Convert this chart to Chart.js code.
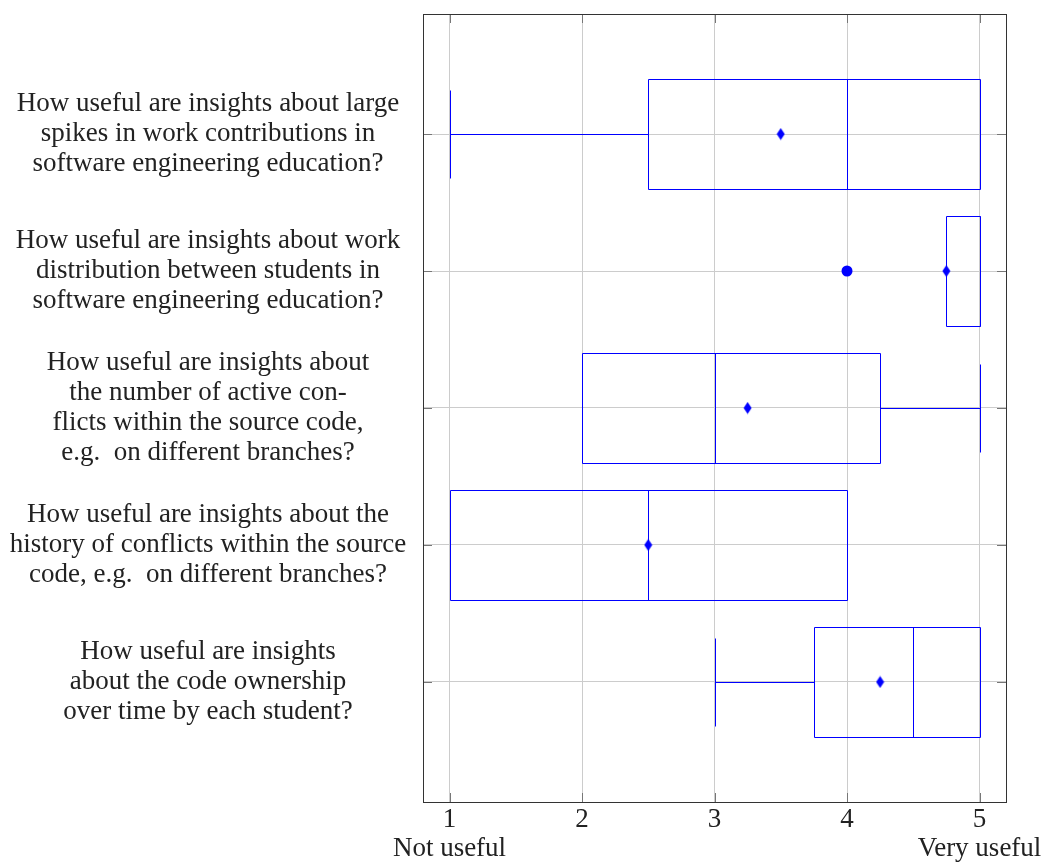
<!doctype html>
<html>
<head>
	<title>Insights usefulness</title>
	<script src="https://cdn.jsdelivr.net/npm/chart.js@4.4.0/dist/chart.umd.min.js"></script>
	<style>
		body { margin: 0; background: #fff; }
		#wrap { width: 1042px; height: 862px; }
	</style>
</head>
<body>
	<div id="wrap"><canvas id="canvas"></canvas></div>
	<script>
		// questions, top to bottom
		var questions = [
			['How useful are insights about large', 'spikes in work contributions in', 'software engineering education?'],
			['How useful are insights about work', 'distribution between students in', 'software engineering education?'],
			['How useful are insights about', 'the number of active con-', 'flicts within the source code,', 'e.g.  on different branches?'],
			['How useful are insights about the', 'history of conflicts within the source', 'code, e.g.  on different branches?'],
			['How useful are insights', 'about the code ownership', 'over time by each student?']
		];
		var lowWhisker = [1, 4.75, 2, 1, 3];
		var q1Vals = [2.5, 4.75, 2, 1, 3.75];
		var medianVals = [4, 5, 3, 2.5, 4.5];
		var q3Vals = [5, 5, 4.25, 4, 5];
		var highWhisker = [5, 5, 5, 4, 5];
		var meanVals = [3.5, 4.75, 3.25, 2.5, 4.25];
		var outliers = [[], [4], [], [], []];
		var xTicks = [1, 2, 3, 4, 5];
		var xTickLabels = [['1', 'Not useful'], '2', '3', '4', ['5', 'Very useful']];

		var blue = '#0000ff';
		var fontFamily = 'Liberation Serif';
		var fontSize = 27;

		// centre the question block around x=208
		var m = document.createElement('canvas').getContext('2d');
		m.font = fontSize + 'px "' + fontFamily + '"';
		var widest = 0;
		questions.forEach(function(q) {
			q.forEach(function(l) { widest = Math.max(widest, m.measureText(l).width); });
		});
		var yPad = 423 - 208 - widest / 2;

		// diamond marker for means
		var diamond = document.createElement('canvas');
		diamond.width = 9;
		diamond.height = 13;
		var dc = diamond.getContext('2d');
		dc.fillStyle = blue;
		dc.beginPath();
		dc.moveTo(4.5, 0.5);
		dc.lineTo(8.5, 6.5);
		dc.lineTo(4.5, 12.5);
		dc.lineTo(0.5, 6.5);
		dc.closePath();
		dc.fill();

		var meanData = [];
		var outlierData = [];
		for (var i = 0; i < questions.length; i++) {
			meanData.push({ x: meanVals[i], y: i + 1 });
			outliers[i].forEach(function(v) { outlierData.push({ x: v, y: i + 1 }); });
		}

		function px(v) { return Math.round(v) + 0.5; }

		function line(ctx, x0, y0, x1, y1, color) {
			ctx.strokeStyle = color;
			ctx.lineWidth = 1;
			ctx.beginPath();
			ctx.moveTo(x0, y0);
			ctx.lineTo(x1, y1);
			ctx.stroke();
		}

		var boxPlugin = {
			id: 'boxes',
			beforeDatasetsDraw: function(chart) {
				var ctx = chart.ctx, xs = chart.scales.x, ys = chart.scales.y, a = chart.chartArea;
				ctx.save();
				// inner tick marks
				xTicks.forEach(function(t) {
					var x = px(xs.getPixelForValue(t));
					line(ctx, x, a.bottom, x, a.bottom - 9, '#777');
					line(ctx, x, a.top, x, a.top + 9, '#777');
				});
				for (var k = 0; k < questions.length; k++) {
					var y = px(ys.getPixelForValue(k + 1));
					line(ctx, a.left, y, a.left + 9, y, '#777');
					line(ctx, a.right, y, a.right - 9, y, '#777');
				}

				for (var j = 0; j < questions.length; j++) {
					var yc = px(ys.getPixelForValue(j + 1));
					var yb0 = px(ys.getPixelForValue(j + 1 - 0.4));
					var yb1 = px(ys.getPixelForValue(j + 1 + 0.4));
					var yw0 = px(ys.getPixelForValue(j + 1 - 0.32));
					var yw1 = px(ys.getPixelForValue(j + 1 + 0.32));
					var xq1 = px(xs.getPixelForValue(q1Vals[j]));
					var xq3 = px(xs.getPixelForValue(q3Vals[j]));
					var xmed = px(xs.getPixelForValue(medianVals[j]));
					var xlo = px(xs.getPixelForValue(lowWhisker[j]));
					var xhi = px(xs.getPixelForValue(highWhisker[j]));
					// box
					line(ctx, xq1, yb0, xq3, yb0, blue);
					line(ctx, xq1, yb1, xq3, yb1, blue);
					line(ctx, xq1, yb0, xq1, yb1, blue);
					line(ctx, xq3, yb0, xq3, yb1, blue);
					// median
					line(ctx, xmed, yb0, xmed, yb1, blue);
					// whiskers
					if (xlo !== xq1) line(ctx, xlo, yc, xq1, yc, blue);
					if (xhi !== xq3) line(ctx, xq3, yc, xhi, yc, blue);
					line(ctx, xlo, yw0, xlo, yw1, blue);
					line(ctx, xhi, yw0, xhi, yw1, blue);
				}
				ctx.restore();
			},
			afterDraw: function(chart) {
				var ctx = chart.ctx, a = chart.chartArea;
				ctx.save();
				ctx.strokeStyle = '#333';
				ctx.lineWidth = 1;
				ctx.strokeRect(px(a.left), px(a.top), Math.round(a.right - a.left), Math.round(a.bottom - a.top));
				ctx.restore();
			}
		};

		var config = {
			type: 'scatter',
			data: {
				datasets: [{
					label: 'mean',
					data: meanData,
					pointStyle: diamond,
					pointRadius: 6
				}, {
					label: 'outliers',
					data: outlierData,
					pointStyle: 'circle',
					pointRadius: 5.5,
					backgroundColor: blue,
					borderColor: blue,
					borderWidth: 0
				}]
			},
			options: {
				responsive: true,
				maintainAspectRatio: false,
				animation: false,
				layout: { padding: { top: 14, right: 36, left: 0, bottom: 0 } },
				plugins: { legend: { display: false }, tooltip: { enabled: false } },
				scales: {
					x: {
						type: 'linear',
						min: 0.8,
						max: 5.2,
						afterBuildTicks: function(s) { s.ticks = xTicks.map(function(v) { return { value: v }; }); },
						afterFit: function(s) { s.height = 60; s.paddingLeft = 0; s.paddingRight = 0; },
						grid: { color: '#cccccc', drawTicks: false },
						border: { display: false },
						ticks: {
							color: '#222',
							font: { family: fontFamily, size: fontSize, lineHeight: 1.05 },
							padding: 4,
							maxRotation: 0,
							autoSkip: false,
							callback: function(v) { return xTickLabels[xTicks.indexOf(v)]; }
						}
					},
					y: {
						type: 'linear',
						reverse: true,
						min: 0.124,
						max: 5.876,
						afterBuildTicks: function(s) { s.ticks = questions.map(function(q, k) { return { value: k + 1 }; }); },
						afterFit: function(s) { s.width = 423; s.paddingTop = 0; s.paddingBottom = 0; },
						grid: { color: '#cccccc', drawTicks: false },
						border: { display: false },
						ticks: {
							color: '#222',
							font: { family: fontFamily, size: fontSize, lineHeight: 1.12 },
							crossAlign: 'center',
							padding: yPad,
							autoSkip: false,
							callback: function(v) { return questions[v - 1]; }
						}
					}
				}
			},
			plugins: [boxPlugin]
		};

		window.onload = function() {
			var ctx = document.getElementById('canvas').getContext('2d');
			window.myChart = new Chart(ctx, config);
		};
	</script>
</body>
</html>
